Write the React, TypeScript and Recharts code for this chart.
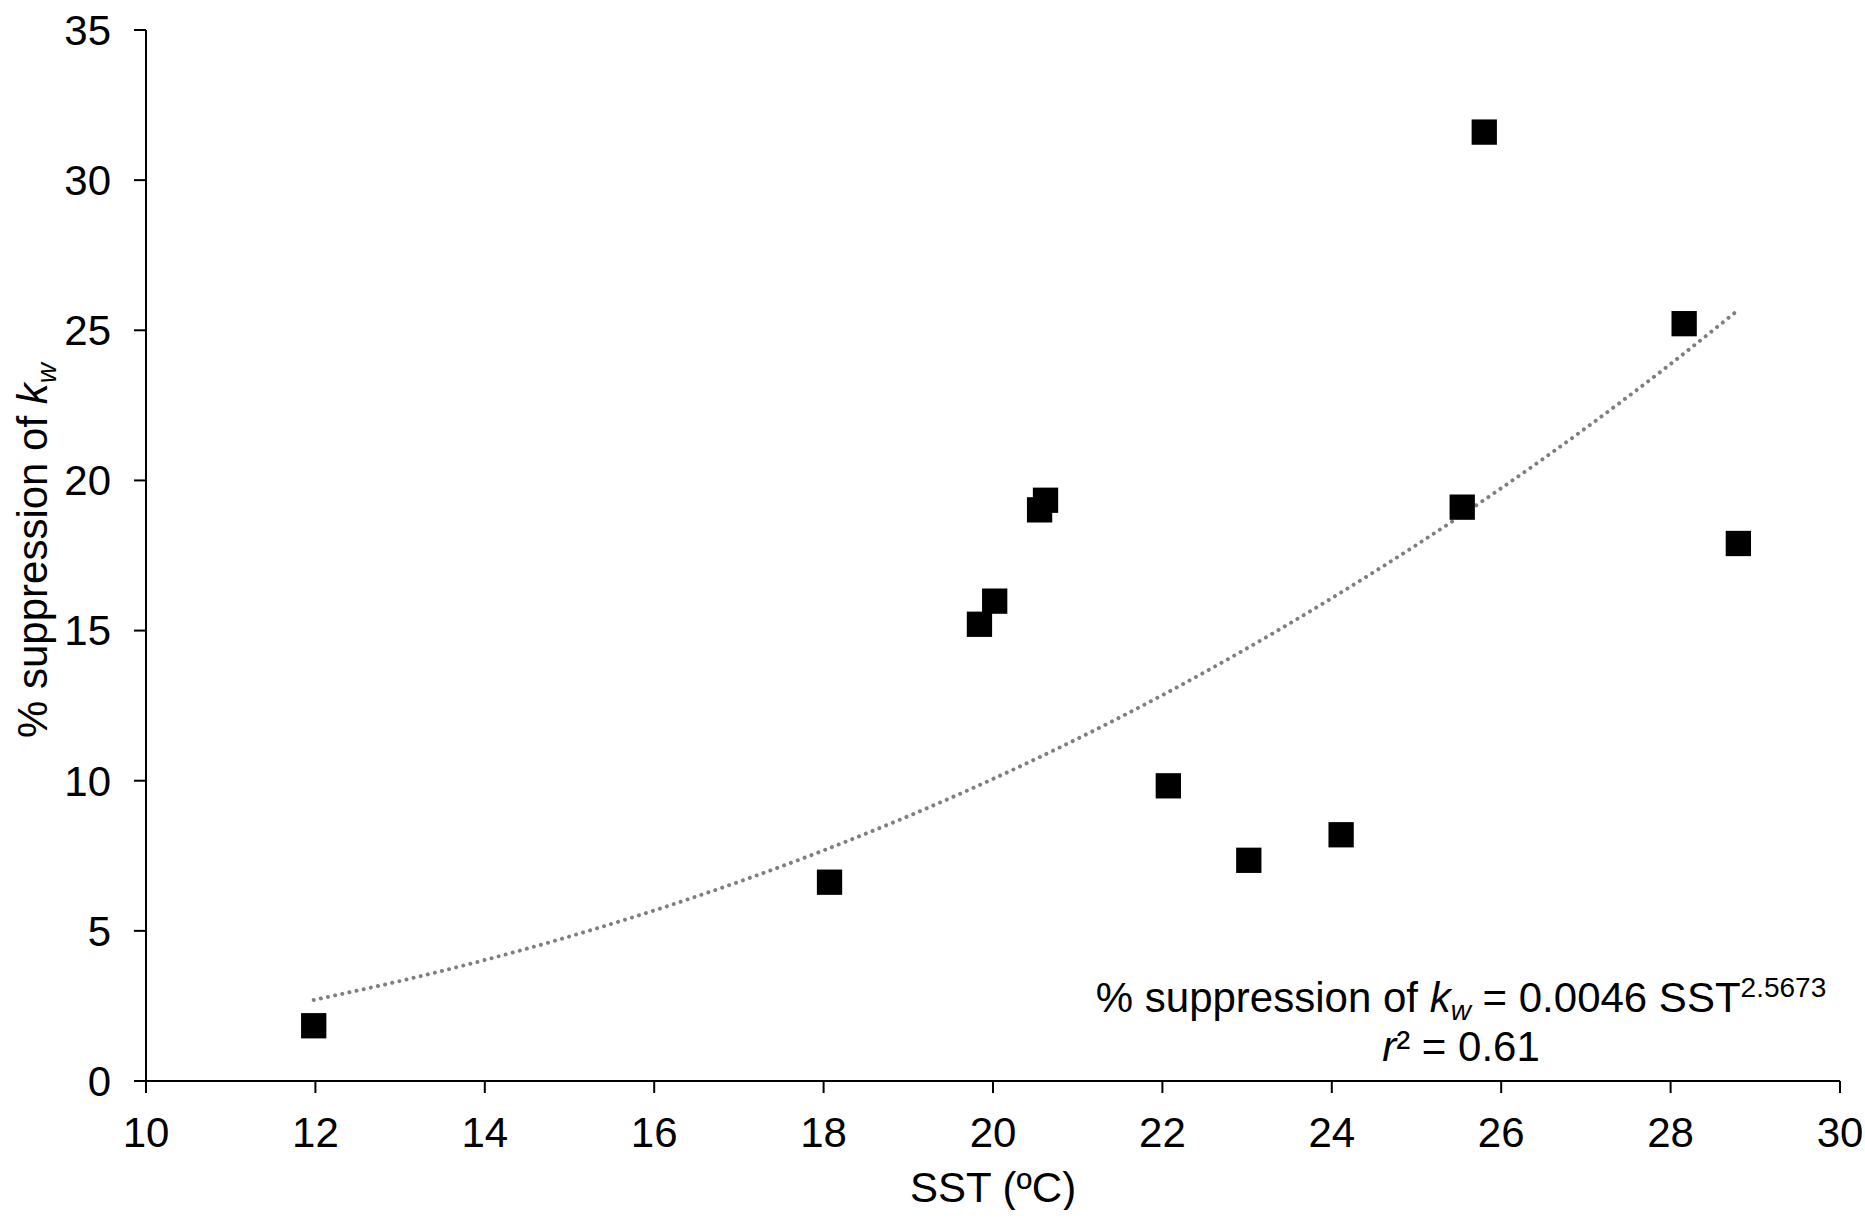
import React from 'react';
import { ComposedChart, Scatter, Line, XAxis, YAxis } from 'recharts';

// measured points: sea surface temperature vs % suppression of kw
const sstValues = [11.98, 18.07, 19.84, 20.02, 20.55, 20.62, 22.07, 23.02, 24.11, 25.54, 25.8, 28.16, 28.8];
const suppressionValues = [1.84, 6.62, 15.21, 15.98, 19.02, 19.34, 9.83, 7.35, 8.2, 19.11, 31.6, 25.22, 17.9];

// power-law trendline
const trendSst = [11.98, 13, 14, 16, 18, 20, 22, 24, 26, 28, 28.8];
const trendSuppression = [2.7, 3.33, 4.03, 5.68, 7.68, 10.06, 12.85, 16.08, 19.74, 23.88, 25.68];

const xTicks = [10, 12, 14, 16, 18, 20, 22, 24, 26, 28, 30];
const yTicks = [0, 5, 10, 15, 20, 25, 30, 35];

const points = sstValues.map((x, i) => ({ x, y: suppressionValues[i] }));
const trend = trendSst.map((x, i) => ({ x, y: trendSuppression[i] }));

const FONT = '"Liberation Sans", Arial, sans-serif';
const FS = 42;

const SquareMarker = (props: any) => {
  const { cx, cy } = props;
  const s = 25.3;
  return <rect x={cx - s / 2} y={cy - s / 2} width={s} height={s} fill="#000" />;
};

const YTitle = (props: any) => {
  const { viewBox } = props;
  const cx = 47;
  const cy = viewBox.y + viewBox.height / 2 - 5;
  return (
    <text
      x={cx}
      y={cy}
      transform={`rotate(-90, ${cx}, ${cy})`}
      textAnchor="middle"
      fontFamily={FONT}
      fontSize={FS}
      fill="#000"
    >
      % suppression of <tspan fontStyle="italic">k</tspan>
      <tspan fontStyle="italic" fontSize={28} dy={9}>w</tspan>
    </text>
  );
};

const XTitle = (props: any) => {
  const { viewBox } = props;
  const cx = viewBox.x + viewBox.width / 2;
  return (
    <g fontFamily={FONT} fill="#000">
      <text x={cx} y={1202} textAnchor="middle" fontSize={FS}>
        SST (ºC)
      </text>
      <text x={1461} y={1012} textAnchor="middle" fontSize={FS}>
        % suppression of <tspan fontStyle="italic">k</tspan>
        <tspan fontStyle="italic" fontSize={28} dy={8}>w</tspan>
        <tspan dy={-8}> = 0.0046 SST</tspan>
        <tspan fontSize={28} dy={-15}>2.5673</tspan>
      </text>
      <text x={1461} y={1061} textAnchor="middle" fontSize={FS}>
        <tspan fontStyle="italic">r</tspan>² = 0.61
      </text>
    </g>
  );
};

export default function App() {
  const axisStroke = { stroke: '#000', strokeWidth: 2 };
  return (
    <div style={{ width: 1865, height: 1210, background: '#fff' }}>
      <style>{'html{overflow:hidden} body{margin:0} .recharts-wrapper,.recharts-surface{overflow:visible}'}</style>
      <ComposedChart width={1865} height={1210} margin={{ top: 30, right: 25, left: 46, bottom: 29 }}>
        <XAxis
          type="number"
          dataKey="x"
          domain={[10, 30]}
          ticks={xTicks}
          interval={0}
          height={100}
          tickSize={12}
          tickMargin={24}
          axisLine={axisStroke}
          tickLine={axisStroke}
          tick={{ fill: '#000', fontSize: FS, fontFamily: FONT }}
          label={{ content: XTitle }}
        />
        <YAxis
          type="number"
          dataKey="y"
          domain={[0, 35]}
          ticks={yTicks}
          interval={0}
          width={100}
          tickSize={12}
          tickMargin={23}
          axisLine={axisStroke}
          tickLine={axisStroke}
          tick={{ fill: '#000', fontSize: FS, fontFamily: FONT }}
          label={{ content: YTitle }}
        />
        <Line
          data={trend}
          dataKey="y"
          type="monotone"
          stroke="#7f7f7f"
          strokeWidth={4}
          strokeLinecap="round"
          strokeDasharray="0.01 7.3"
          dot={false}
          activeDot={false}
          isAnimationActive={false}
        />
        <Scatter data={points} dataKey="y" shape={SquareMarker} isAnimationActive={false} />
      </ComposedChart>
    </div>
  );
}
